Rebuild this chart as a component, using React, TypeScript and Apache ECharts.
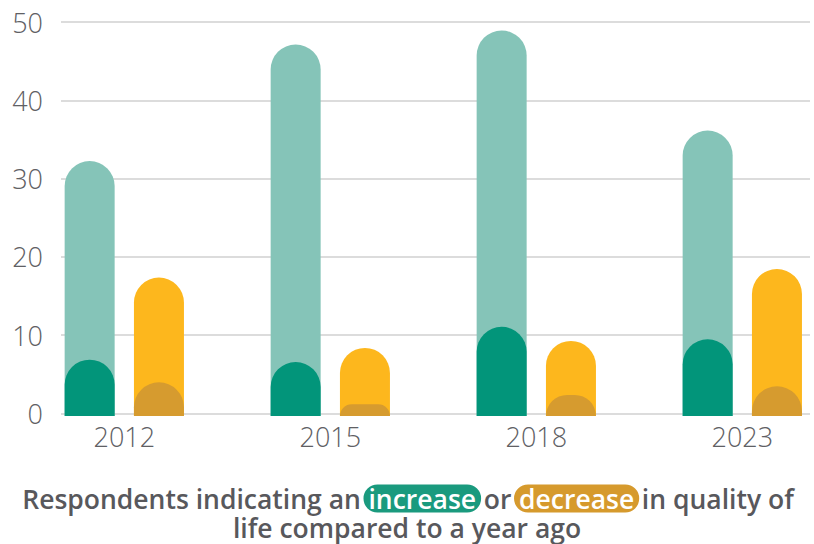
import React, { useEffect, useRef } from "react";
import * as echarts from "echarts";

const categories = ["2012", "2015", "2018", "2023"];
const increaseTotal = [32.6, 47.5, 49.3, 36.5];
const increaseStrong = [7.2, 6.9, 11.4, 9.8];
const decreaseTotal = [17.7, 8.7, 9.6, 18.8];
const decreaseStrong = [4.3, 1.5, 2.7, 3.8];
const yTicks = [0, 10, 20, 30, 40, 50];

export default function App() {
  const ref = useRef<HTMLDivElement>(null);
  useEffect(() => {
    if (!ref.current) return;
    const chart = echarts.init(ref.current, null, { renderer: "svg" });
    const font = "'Open Sans', 'Noto Sans', sans-serif";
    const barW = 50;
    const gap = "38.6%";
    const radius = [25, 25, 0, 0];
    const fs = 26.5;
    const fw = 600;
    const pill = (bg: string) => ({
      fontFamily: font,
      fontSize: fs,
      fontWeight: fw,
      color: "#ffffff",
      backgroundColor: bg,
      borderRadius: 16,
      padding: [1, 5, 0, 5],
      lineHeight: 29,
    });
    const hs = "\u200A";
    chart.setOption({
      animation: false,
      backgroundColor: "#ffffff",
      title: [
        {
          text:
            "Respondents indicating an" + hs + "{inc|increase}" + hs + "or" + hs +
            "{dec|decrease}" + hs + "in quality of",
          left: 408,
          top: 484,
          padding: 0,
          textAlign: "center",
          textStyle: {
            fontFamily: font,
            fontSize: fs,
            fontWeight: fw,
            color: "#58585c",
            lineHeight: 29,
            rich: {
              inc: pill("#1A9A7E"),
              dec: pill("#D69A2D"),
            },
          },
        },
        {
          text: "life compared to a year ago",
          left: 407,
          top: 515,
          padding: 0,
          textAlign: "center",
          textStyle: {
            fontFamily: font,
            fontSize: fs,
            fontWeight: fw,
            color: "#58585c",
            lineHeight: 26,
          },
        },
      ],
      grid: [
        { left: 61, right: 4, top: 22, bottom: 544 - 413.3 },
        { left: 124.3, right: 814 - 742.3, top: 25, bottom: 128 },
      ],
      xAxis: [
        {
          type: "category",
          gridIndex: 0,
          data: categories,
          show: false,
        },
        {
          type: "category",
          gridIndex: 1,
          data: categories,
          boundaryGap: false,
          axisLine: { show: false },
          axisTick: { show: false },
          axisLabel: {
            margin: 7,
            fontFamily: font,
            fontWeight: 300,
            fontSize: 27,
            color: "#606064",
          },
        },
        {
          type: "category",
          gridIndex: 1,
          data: categories,
          boundaryGap: false,
          show: false,
        },
      ],
      yAxis: [
        {
          type: "value",
          gridIndex: 0,
          min: 0,
          max: 50,
          interval: 10,
          axisLine: { show: false },
          axisTick: { show: false },
          axisLabel: {
            margin: 18,
            fontFamily: font,
            fontWeight: 300,
            fontSize: 27,
            color: "#606064",
            formatter: (v: number) => (yTicks.includes(v) ? String(v) : ""),
          },
          splitLine: { lineStyle: { color: "#dcdcdc", width: 2 } },
        },
        {
          type: "value",
          gridIndex: 1,
          min: 0,
          max: 50,
          show: false,
          splitLine: { show: false },
        },
      ],
      series: [
        {
          type: "bar",
          name: "increase",
          xAxisIndex: 1,
          yAxisIndex: 1,
          data: increaseTotal,
          barWidth: barW,
          barGap: gap,
          itemStyle: { color: "#85C4B8", borderRadius: radius },
        },
        {
          type: "bar",
          name: "decrease",
          xAxisIndex: 1,
          yAxisIndex: 1,
          data: decreaseTotal,
          barWidth: barW,
          barGap: gap,
          itemStyle: { color: "#FDB71D", borderRadius: radius },
        },
        {
          type: "bar",
          name: "increase strong",
          xAxisIndex: 2,
          yAxisIndex: 1,
          data: increaseStrong,
          barWidth: barW,
          barGap: gap,
          itemStyle: { color: "#02957A", borderRadius: radius },
        },
        {
          type: "bar",
          name: "decrease strong",
          xAxisIndex: 2,
          yAxisIndex: 1,
          data: decreaseStrong,
          barWidth: barW,
          barGap: gap,
          itemStyle: { color: "#D69B2F", borderRadius: radius },
        },
      ],
    });
    return () => chart.dispose();
  }, []);
  return (
    <div
      ref={ref}
      style={{ position: "fixed", left: 0, top: 0, width: 814, height: 544 }}
    />
  );
}
